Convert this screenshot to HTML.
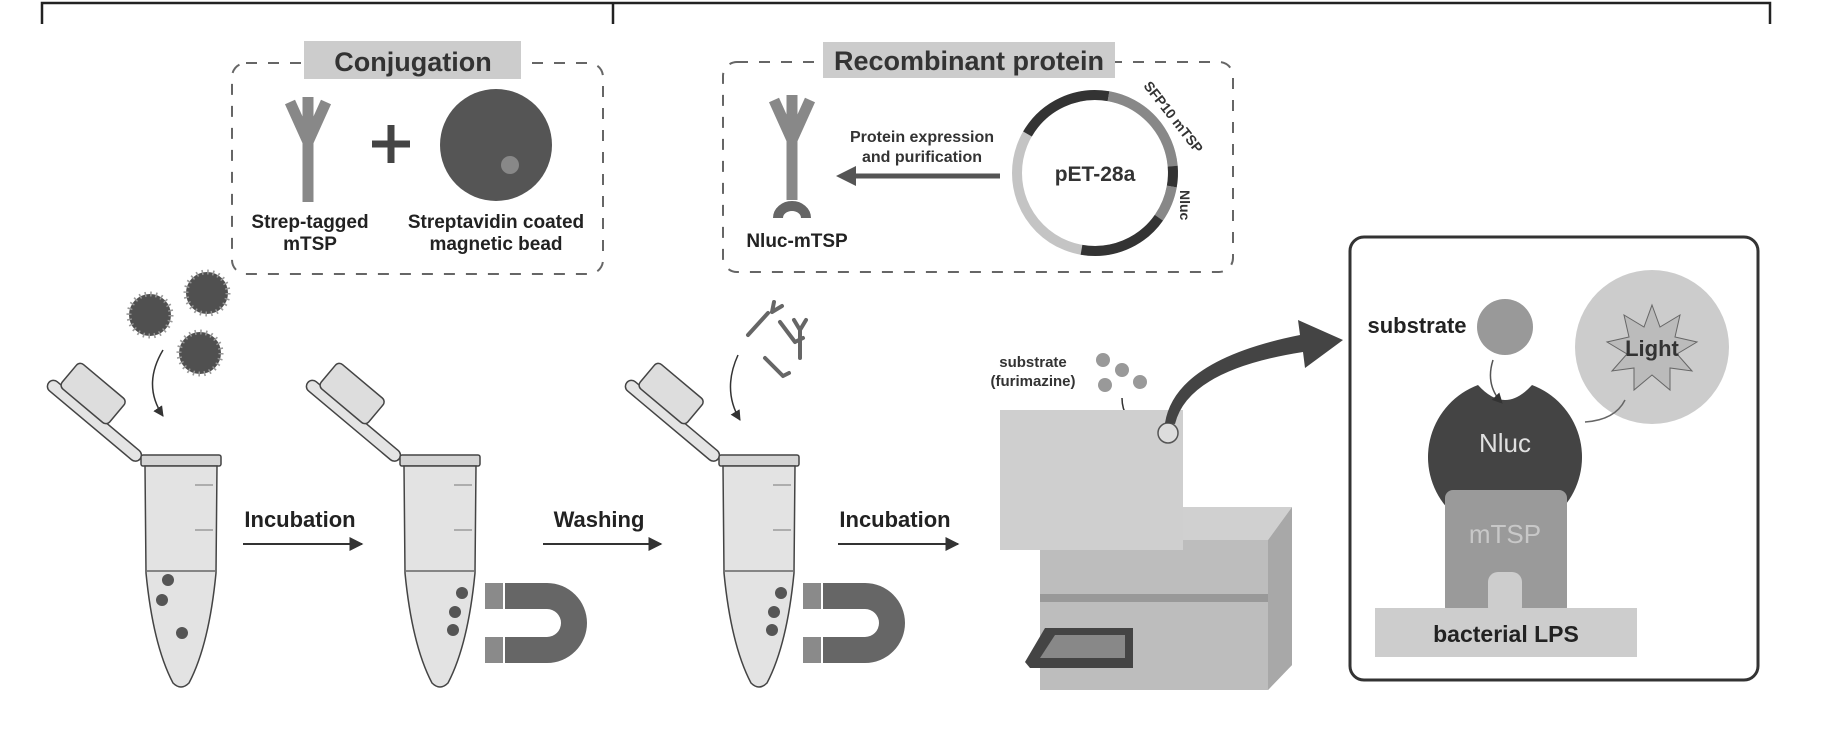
<!DOCTYPE html>
<html><head><meta charset="utf-8"><style>
html,body{margin:0;padding:0;background:#fff;}
svg{display:block;font-family:"Liberation Sans",sans-serif;}
.b{font-weight:bold;}
</style></head><body>
<svg width="1828" height="747" viewBox="0 0 1828 747">
<defs>
<g id="tube">
  <g transform="rotate(40 -41 4)">
    <rect x="-160" y="-2" width="119" height="12" rx="6" fill="#e4e4e4" stroke="#444" stroke-width="1.5"/>
    <rect x="-150" y="-32" width="62" height="32" rx="5" fill="#ddd" stroke="#444" stroke-width="1.5"/>
  </g>
  <rect x="-40" y="0" width="80" height="11" rx="2" fill="#d4d4d4" stroke="#444" stroke-width="1.5"/>
  <path d="M-36,11 L-35,118 Q-28,190 -8,228 Q0,236 8,228 Q28,190 35,118 L36,11 Z" fill="#e3e3e3" stroke="#444" stroke-width="1.5"/>
  <path d="M-34,116 L34,116" stroke="#666" stroke-width="1.5"/>
  <path d="M14,30 h18 M14,75 h18" stroke="#777"/>
</g>
<g id="magnet">
  <path d="M20,0 h42 a40,40 0 0 1 0,80 h-42 v-26 h42 a14,14 0 0 0 0,-28 h-42 Z" fill="#666"/>
  <rect x="0" y="0" width="18" height="26" fill="#8a8a8a"/><rect x="0" y="54" width="18" height="26" fill="#8a8a8a"/>
</g>
<g id="ab">
  <path d="M0,45 V105 M0,45 L-18,5 M0,45 L18,5 M0,45 V0" stroke="#888" stroke-width="11" fill="none"/>
</g>
<g id="bead">
  <circle r="21" fill="#505050" stroke="#999" stroke-width="5" stroke-dasharray="1.5,4"/>
</g>
<marker id="ah" viewBox="0 0 10 10" refX="9" refY="5" markerWidth="7" markerHeight="7" orient="auto"><path d="M0,0 L10,5 L0,10 Z" fill="#333"/></marker>
</defs>

<!-- top bracket -->
<path d="M42,24 V3 H1770 V24 M613,3 V24" stroke="#222" stroke-width="2.5" fill="none"/>

<!-- Conjugation box -->
<rect x="232" y="63" width="371" height="211" rx="14" fill="none" stroke="#666" stroke-width="2" stroke-dasharray="11,11"/>
<rect x="304" y="41" width="217" height="38" fill="#ccc"/>
<text x="413" y="71" text-anchor="middle" class="b" font-size="27" fill="#333">Conjugation</text>
<use href="#ab" x="308" y="97"/>
<path d="M391,125 V163 M372,144 H410" stroke="#444" stroke-width="7"/>
<circle cx="496" cy="145" r="56" fill="#555"/><circle cx="510" cy="165" r="9" fill="#888"/>
<text x="310" y="228" text-anchor="middle" class="b" font-size="19" fill="#222">Strep-tagged</text>
<text x="310" y="250" text-anchor="middle" class="b" font-size="19" fill="#222">mTSP</text>
<text x="496" y="228" text-anchor="middle" class="b" font-size="19" fill="#222">Streptavidin coated</text>
<text x="496" y="250" text-anchor="middle" class="b" font-size="19" fill="#222">magnetic bead</text>

<!-- Recombinant box -->
<rect x="723" y="62" width="510" height="210" rx="14" fill="none" stroke="#666" stroke-width="2" stroke-dasharray="11,11"/>
<rect x="823" y="42" width="292" height="36" fill="#ccc"/>
<text x="969" y="70" text-anchor="middle" class="b" font-size="27" fill="#333">Recombinant protein</text>
<use href="#ab" x="792" y="95"/>
<path d="M778,218 a14,12 0 0 1 28,0" stroke="#666" stroke-width="10" fill="none"/>
<text x="797" y="247" text-anchor="middle" class="b" font-size="19" fill="#222">Nluc-mTSP</text>
<text x="922" y="142" text-anchor="middle" class="b" font-size="16" fill="#333">Protein expression</text>
<text x="922" y="162" text-anchor="middle" class="b" font-size="16" fill="#333">and purification</text>
<line x1="1000" y1="176" x2="850" y2="176" stroke="#555" stroke-width="5"/>
<path d="M836,176 L856,166 L856,186 Z" fill="#555"/>
<circle cx="1095" cy="173" r="78" fill="none" stroke="#c4c4c4" stroke-width="10"/>
<path d="M1027.5,134 A78,78 0 0 1 1108.5,96.2" stroke="#333" stroke-width="10" fill="none"/>
<path d="M1108.5,96.2 A78,78 0 0 1 1172.7,166.2" stroke="#888" stroke-width="10" fill="none"/>
<path d="M1172.7,166.2 A78,78 0 0 1 1171.8,186.5" stroke="#333" stroke-width="10" fill="none"/>
<path d="M1171.8,186.5 A78,78 0 0 1 1158.9,217.7" stroke="#888" stroke-width="10" fill="none"/>
<path d="M1158.9,217.7 A78,78 0 0 1 1081.5,249.8" stroke="#333" stroke-width="10" fill="none"/>
<text x="1095" y="181" text-anchor="middle" class="b" font-size="21" fill="#333">pET-28a</text>
<text x="1143" y="86" class="b" font-size="14" fill="#333" transform="rotate(52 1143 86)">SFP10 mTSP</text>
<text x="1180" y="190" class="b" font-size="14" fill="#333" transform="rotate(90 1180 190)">Nluc</text>

<!-- beads falling -->
<use href="#bead" x="150" y="315"/><use href="#bead" x="207" y="293"/><use href="#bead" x="200" y="353"/>
<path d="M163,350 Q142,385 163,416" stroke="#333" fill="none" stroke-width="1.5" marker-end="url(#ah)"/>

<!-- tube 1 -->
<use href="#tube" x="181" y="455"/>
<circle cx="168" cy="580" r="6" fill="#555"/><circle cx="162" cy="600" r="6" fill="#555"/><circle cx="182" cy="633" r="6" fill="#555"/>
<text x="300" y="527" text-anchor="middle" class="b" font-size="22" fill="#222">Incubation</text>
<line x1="243" y1="544" x2="362" y2="544" stroke="#333" stroke-width="2" marker-end="url(#ah)"/>

<!-- tube 2 -->
<use href="#tube" x="440" y="455"/>
<circle cx="462" cy="593" r="6" fill="#555"/><circle cx="455" cy="612" r="6" fill="#555"/><circle cx="453" cy="630" r="6" fill="#555"/>
<use href="#magnet" x="485" y="583"/>
<text x="599" y="527" text-anchor="middle" class="b" font-size="22" fill="#222">Washing</text>
<line x1="543" y1="544" x2="661" y2="544" stroke="#333" stroke-width="2" marker-end="url(#ah)"/>

<!-- antibodies falling -->
<g stroke="#666" stroke-width="4" stroke-linecap="round">
<path d="M748,335 l20,-22 M772,312 l10,-6 M772,312 l2,-10"/>
<path d="M780,322 l15,20 M795,342 l8,-4"/>
<path d="M800,330 v28 M800,330 l-6,-10 M800,330 l6,-10"/>
<path d="M765,358 l18,18 M783,376 l6,-3"/>
</g>
<path d="M738,355 Q722,390 740,420" stroke="#333" fill="none" stroke-width="1.5" marker-end="url(#ah)"/>

<!-- tube 3 -->
<use href="#tube" x="759" y="455"/>
<circle cx="781" cy="593" r="6" fill="#555"/><circle cx="774" cy="612" r="6" fill="#555"/><circle cx="772" cy="630" r="6" fill="#555"/>
<use href="#magnet" x="803" y="583"/>
<text x="895" y="527" text-anchor="middle" class="b" font-size="22" fill="#222">Incubation</text>
<line x1="838" y1="544" x2="958" y2="544" stroke="#333" stroke-width="2" marker-end="url(#ah)"/>

<!-- plate reader -->
<text x="1033" y="367" text-anchor="middle" class="b" font-size="15" fill="#333">substrate</text>
<text x="1033" y="386" text-anchor="middle" class="b" font-size="15" fill="#333">(furimazine)</text>
<g fill="#999"><circle cx="1103" cy="360" r="7"/><circle cx="1122" cy="370" r="7"/><circle cx="1140" cy="382" r="7"/><circle cx="1105" cy="385" r="7"/></g>
<path d="M1122,398 Q1122,422 1148,432" stroke="#333" fill="none" stroke-width="1.5" marker-end="url(#ah)"/>
<path d="M1040,540 L1270,540 L1292,515 L1292,665 L1268,690 L1040,690 Z" fill="#bdbdbd"/>
<path d="M1040,540 L1062,507 L1292,507 L1268,540 Z" fill="#d0d0d0"/>
<path d="M1268,540 L1292,507 L1292,665 L1268,690 Z" fill="#a8a8a8"/>
<rect x="1040" y="594" width="228" height="8" fill="#999"/>
<path d="M1025,662 L1045,628 L1133,628 L1133,668 L1030,668 Z" fill="#444"/>
<path d="M1040,658 L1055,635 L1125,635 L1125,658 Z" fill="#888"/>
<rect x="1000" y="410" width="183" height="140" fill="#cfcfcf"/>
<circle cx="1168" cy="433" r="10" fill="#ddd" stroke="#555" stroke-width="1.5"/>
<path d="M1165,423 Q1175,360 1300,335 L1298,320 L1343,340 L1305,368 L1303,352 Q1188,370 1175,424 Z" fill="#444"/>

<!-- right box -->
<rect x="1350" y="237" width="408" height="443" rx="14" fill="none" stroke="#333" stroke-width="3"/>
<text x="1417" y="333" text-anchor="middle" class="b" font-size="22" fill="#222">substrate</text>
<circle cx="1505" cy="327" r="28" fill="#999"/>
<circle cx="1652" cy="347" r="77" fill="#ccc"/>
<path d="M1652,305 l8,22 l20,-12 l-5,22 l22,5 l-20,12 l15,17 l-22,-3 l0,22 l-18,-15 l-18,15 l0,-22 l-22,3 l15,-17 l-20,-12 l22,-5 l-5,-22 l20,12 Z" fill="#bbb" stroke="#666"/>
<text x="1652" y="356" text-anchor="middle" class="b" font-size="22" fill="#333">Light</text>
<path d="M1478,385 A77,77 0 1 0 1532,385 Q1505,415 1478,385 Z" fill="#444"/>
<path d="M1493,360 Q1485,385 1502,403" stroke="#555" fill="none" stroke-width="1.5" marker-end="url(#ah)"/>
<path d="M1585,422 Q1615,420 1625,400" stroke="#666" fill="none" stroke-width="1.5"/>
<text x="1505" y="452" text-anchor="middle" font-size="26" fill="#e0e0e0">Nluc</text>
<line x1="1505" y1="480" x2="1505" y2="492" stroke="#444" stroke-width="3"/>
<rect x="1445" y="490" width="122" height="125" rx="8" fill="#9a9a9a"/>
<text x="1505" y="543" text-anchor="middle" font-size="26" fill="#c8c8c8">mTSP</text>
<rect x="1488" y="572" width="34" height="45" rx="10" fill="#cdcdcd"/>
<rect x="1375" y="608" width="262" height="49" fill="#cdcdcd"/>
<text x="1506" y="642" text-anchor="middle" class="b" font-size="23" fill="#222">bacterial LPS</text>
</svg>
</body></html>
